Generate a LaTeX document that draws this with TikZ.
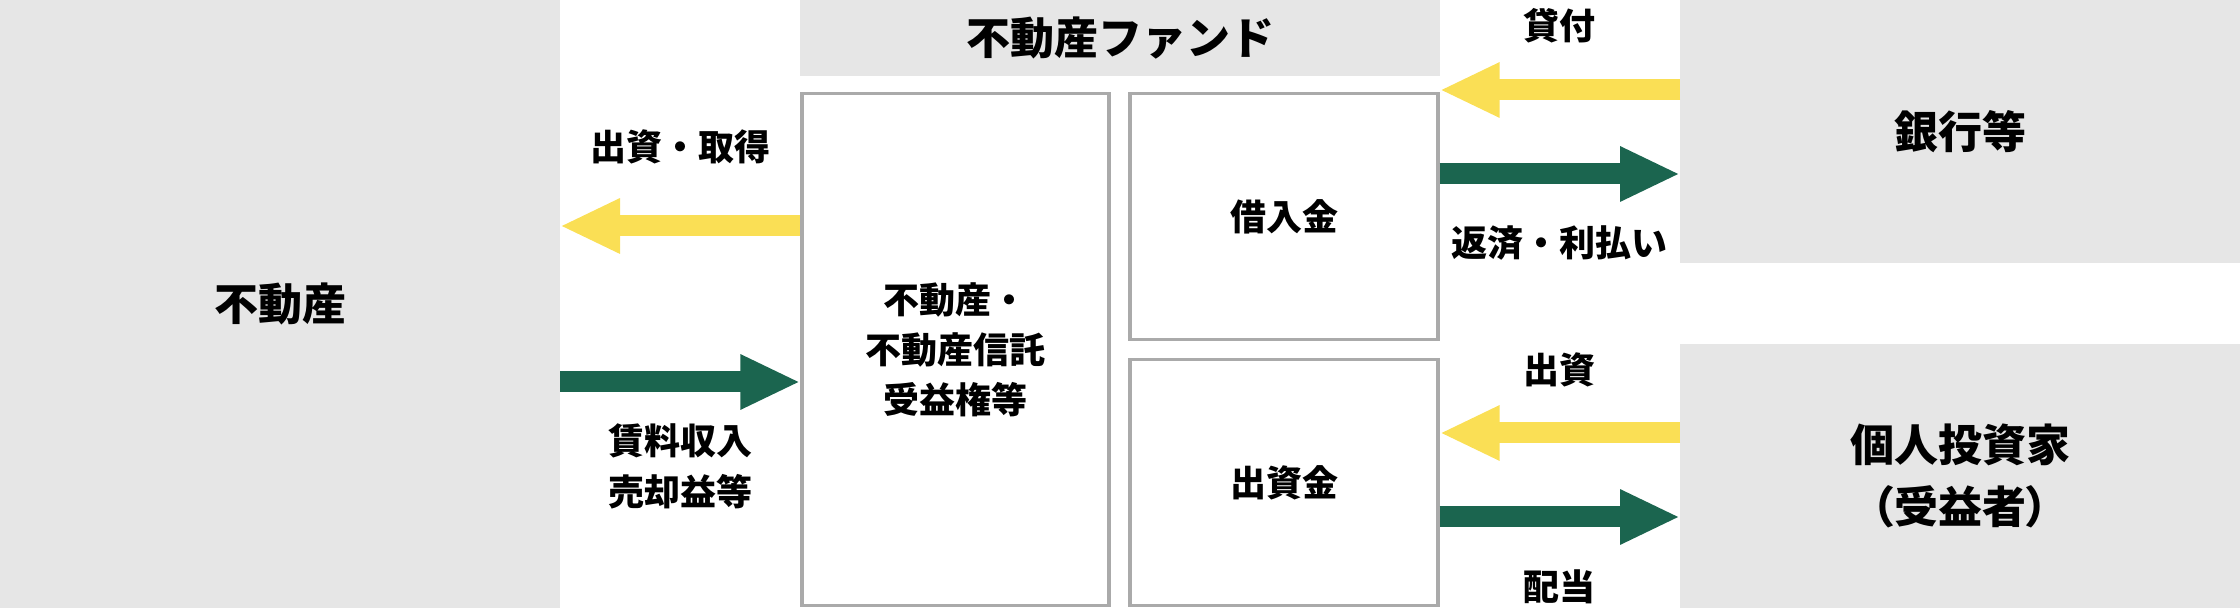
\documentclass[tikz,border=0pt]{standalone}
\usepackage{fontspec}
\setmainfont{Noto Sans CJK JP}
\usetikzlibrary{arrows.meta}
\definecolor{panelgray}{HTML}{E6E6E6}
\definecolor{boxgray}{HTML}{AAAAAA}
\definecolor{fundyellow}{HTML}{FADF55}
\definecolor{fundgreen}{HTML}{1B654F}
\begin{document}
\begin{tikzpicture}[x=0.5pt,y=-0.5pt,
    panel/.style={fill=panelgray,inner sep=0pt,outer sep=0pt,align=center,
      font=\bfseries\fontsize{22pt}{31pt}\selectfont},
    fundbox/.style={draw=boxgray,line width=1.7pt,fill=white,align=center,
      font=\bfseries\fontsize{18pt}{25pt}\selectfont},
    flow/.style={line width=10.5pt,-{Triangle[width=25.5pt,length=30pt]}},
    payin/.style={flow,draw=fundyellow},
    payout/.style={flow,draw=fundgreen},
    lbl/.style={align=center,font=\bfseries\fontsize{18pt}{25.5pt}\selectfont}]
  \useasboundingbox (0,0) rectangle (2240,608);
  % the three outside parties
  \node[panel,minimum width=280pt,minimum height=304pt] (land) at (280,304) {不動産};
  \node[panel,minimum width=280pt,minimum height=131.75pt] (bank) at (1960,131.75) {銀行等};
  \node[panel,minimum width=280pt,minimum height=132pt] (investor) at (1960,476)
    {個人投資家\\{\addfontfeature{RawFeature=+palt}（受益者）}};
  %% the fund
  \node[panel,minimum width=320pt,minimum height=38pt] (fund) at (1120,38) {不動産ファンド};
  \node[fundbox,minimum width=153.5pt,minimum height=256pt] (asset) at (955.5,349.6) {不動産・\\不動産信託\\受益権等};
  \node[fundbox,minimum width=154pt,minimum height=123pt] (loan) at (1284,216.5) {借入金};
  \node[fundbox,minimum width=154pt,minimum height=123pt] (equity) at (1284,482.6) {出資金};
  % money in (yellow) and out (green)
  \draw[payin] (asset.west |- 0,226) -- (land.east |- 0,226)
    node[lbl,midway,yshift=39.5pt] {出資・取得};
  \draw[payout] (land.east |- 0,382) -- (asset.west |- 0,382)
    node[lbl,midway,yshift=-42.25pt] {賃料収入\\売却益等};
  \draw[payin] (bank.west |- 0,90) -- (loan.east |- 0,90)
    node[lbl,midway,yshift=32pt] {貸付};
  \draw[payout] (loan.east |- 0,174) -- (bank.west |- 0,174)
    node[lbl,midway,yshift=-34.5pt] {返済・利払い};
  \draw[payin] (investor.west |- 0,433) -- (equity.east |- 0,433)
    node[lbl,midway,yshift=31.5pt] {出資};
  \draw[payout] (equity.east |- 0,517) -- (investor.west |- 0,517)
    node[lbl,midway,yshift=-35pt] {配当};
\end{tikzpicture}
\end{document}
